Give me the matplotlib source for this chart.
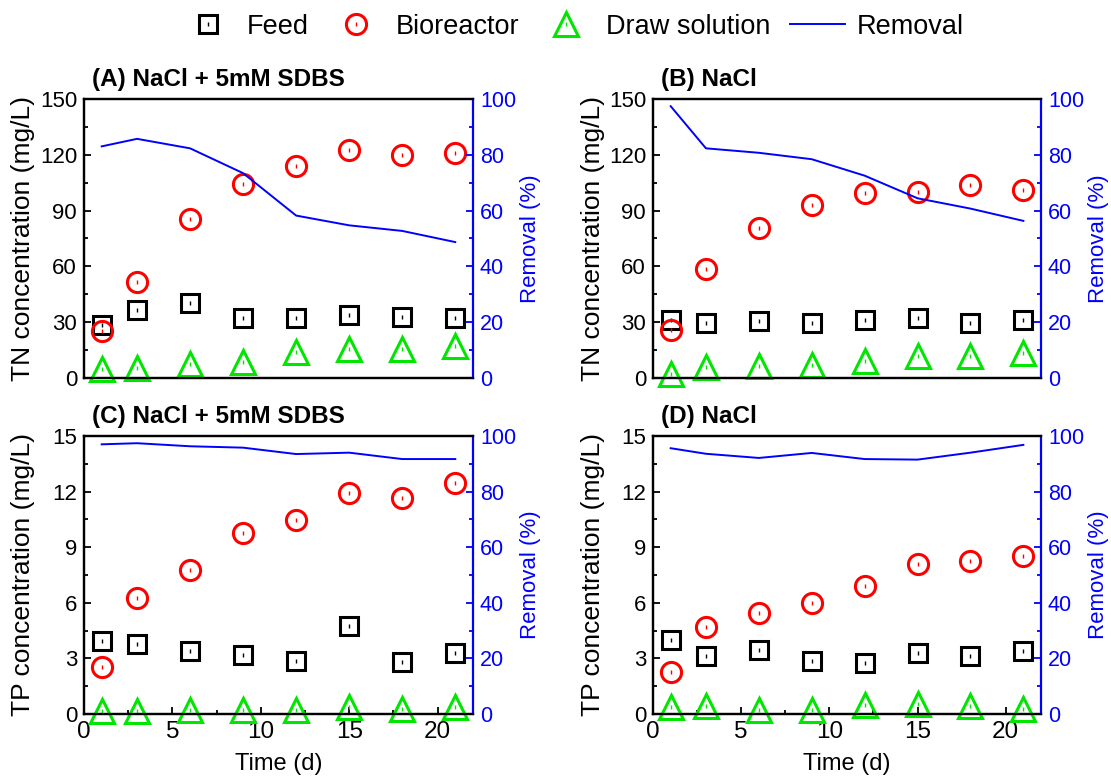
import matplotlib
matplotlib.use('Agg')
import matplotlib.pyplot as plt
from matplotlib.ticker import MultipleLocator

plt.rcParams['font.family'] = ['Liberation Sans', 'DejaVu Sans']

# --- data ---
days = [1, 3, 6, 9, 12, 15, 18, 21]

# (A) TN, NaCl + 5mM SDBS
tn_sdbs_feed = [28.4, 36.8, 40.4, 32.3, 32.5, 33.8, 32.9, 32.5]
tn_sdbs_bio = [25.1, 51.7, 85.5, 104.4, 114.1, 122.7, 119.8, 120.7]
tn_sdbs_draw = [5.0, 5.4, 7.7, 8.6, 14.0, 15.8, 15.8, 17.1]
tn_sdbs_removal = [83.0, 85.7, 82.3, 73.4, 58.2, 54.7, 52.7, 48.7]

# (B) TN, NaCl
tn_nacl_feed = [31.1, 29.6, 30.5, 29.6, 31.4, 32.5, 29.6, 31.4]
tn_nacl_bio = [25.7, 58.6, 80.5, 92.9, 99.2, 100.2, 103.6, 101.0]
tn_nacl_draw = [2.0, 5.9, 6.3, 6.8, 9.0, 11.7, 11.7, 13.5]
tn_nacl_removal = [97.4, 82.3, 80.7, 78.4, 72.5, 64.4, 60.7, 56.3]

# (C) TP, NaCl + 5mM SDBS
tp_sdbs_feed = [3.93, 3.78, 3.40, 3.19, 2.85, 4.74, 2.79, 3.28]
tp_sdbs_bio = [2.56, 6.25, 7.78, 9.76, 10.44, 11.90, 11.66, 12.44]
tp_sdbs_draw = [0.18, 0.14, 0.22, 0.22, 0.22, 0.36, 0.27, 0.36]
tp_sdbs_removal = [97.0, 97.4, 96.3, 95.8, 93.5, 94.0, 91.7, 91.7]

# (D) TP, NaCl
tp_nacl_feed = [4.00, 3.12, 3.44, 2.85, 2.77, 3.28, 3.12, 3.39]
tp_nacl_bio = [2.27, 4.72, 5.47, 6.01, 6.93, 8.07, 8.23, 8.52]
tp_nacl_draw = [0.40, 0.45, 0.23, 0.23, 0.50, 0.54, 0.45, 0.27]
tp_nacl_removal = [95.6, 93.6, 92.1, 93.9, 91.7, 91.5, 94.0, 96.8]

panels = [
    ('(A) NaCl + 5mM SDBS', 'TN concentration (mg/L)', 150, 30,
     tn_sdbs_feed, tn_sdbs_bio, tn_sdbs_draw, tn_sdbs_removal),
    ('(B) NaCl', 'TN concentration (mg/L)', 150, 30,
     tn_nacl_feed, tn_nacl_bio, tn_nacl_draw, tn_nacl_removal),
    ('(C) NaCl + 5mM SDBS', 'TP concentration (mg/L)', 15, 3,
     tp_sdbs_feed, tp_sdbs_bio, tp_sdbs_draw, tp_sdbs_removal),
    ('(D) NaCl', 'TP concentration (mg/L)', 15, 3,
     tp_nacl_feed, tp_nacl_bio, tp_nacl_draw, tp_nacl_removal),
]

positions = [
    [0.0756, 0.5179, 0.3501, 0.3559],
    [0.5878, 0.5179, 0.3492, 0.3559],
    [0.0756, 0.0893, 0.3501, 0.3546],
    [0.5878, 0.0893, 0.3492, 0.3546],
]

feed_c = 'black'
bio_c = '#ff0000'
draw_c = '#00e600'
rem_c = '#0000ff'
mew = 2.2

fig = plt.figure(figsize=(11.11, 7.84), dpi=100)
handles = None

for i, (title, ylabel, ymax, ystep, feed, bio, draw, rem) in enumerate(panels):
    ax = fig.add_axes(positions[i])
    ax2 = ax.twinx()

    series = [(feed, 's', 13, feed_c), (bio, 'o', 14.5, bio_c), (draw, '^', 17.5, draw_c)]
    hs = []
    for vals, mk, ms, c in series:
        l1, = ax.plot(days, vals, ls='none', marker=mk, ms=ms, mfc='none',
                      mec=c, mew=mew, clip_on=False, zorder=3)
        l2, = ax.plot(days, vals, ls='none', marker='|', ms=2.5, mew=1,
                      color=c, clip_on=False, zorder=3)
        hs.append((l1, l2))
    lr, = ax2.plot(days, rem, color=rem_c, lw=1.4)
    hs.append(lr)
    if handles is None:
        handles = hs

    ax.set_xlim(0, 22)
    ax.set_ylim(0, ymax)
    ax2.set_ylim(0, 100)
    ax.yaxis.set_major_locator(MultipleLocator(ystep))
    ax.yaxis.set_minor_locator(MultipleLocator(ystep / 2))
    ax2.yaxis.set_major_locator(MultipleLocator(20))
    ax2.yaxis.set_minor_locator(MultipleLocator(10))
    ax.xaxis.set_major_locator(MultipleLocator(5))
    ax.xaxis.set_minor_locator(MultipleLocator(2.5))

    for sp in ['left', 'top', 'bottom']:
        ax.spines[sp].set_linewidth(1.6)
        ax2.spines[sp].set_linewidth(1.6)
    ax2.spines['right'].set_color(rem_c)
    ax2.spines['right'].set_linewidth(1.6)
    ax.spines['right'].set_visible(False)

    ax.tick_params(axis='y', which='both', direction='in', labelsize=16,
                   width=1.3, pad=5)
    ax.tick_params(axis='y', which='major', length=5)
    ax.tick_params(axis='y', which='minor', length=3)
    ax2.tick_params(axis='y', which='both', direction='in', colors=rem_c,
                    labelsize=15.5, width=1.3, pad=5)
    ax2.tick_params(axis='y', which='major', length=5)
    ax2.tick_params(axis='y', which='minor', length=3)

    if i >= 2:
        ax.tick_params(axis='x', which='both', direction='in', labelsize=17.5,
                       width=1.3, pad=5)
        ax.tick_params(axis='x', which='major', length=5)
        ax.tick_params(axis='x', which='minor', length=3)
        ax.set_xlabel('Time (d)', fontsize=17, labelpad=7)
    else:
        ax.tick_params(axis='x', which='both', bottom=False, labelbottom=False)

    ax.set_ylabel(ylabel, fontsize=19)
    ax.yaxis.set_label_coords(-0.125, 0.5)
    ax2.set_ylabel('Removal (%)', fontsize=16, color=rem_c)
    ax2.yaxis.set_label_coords(1.12, 0.5)

    ax.text(0.02, 1.045, title, transform=ax.transAxes, fontsize=17.5,
            fontweight='bold', ha='left', va='baseline')

fig.legend(handles, ['Feed', 'Bioreactor', 'Draw solution', 'Removal'],
           loc='center', bbox_to_anchor=(0.515, 0.966), ncol=4, frameon=False,
           fontsize=19.5, handlelength=2.0, handletextpad=0.45, columnspacing=0.75)

fig.savefig('out.png', dpi=100)
